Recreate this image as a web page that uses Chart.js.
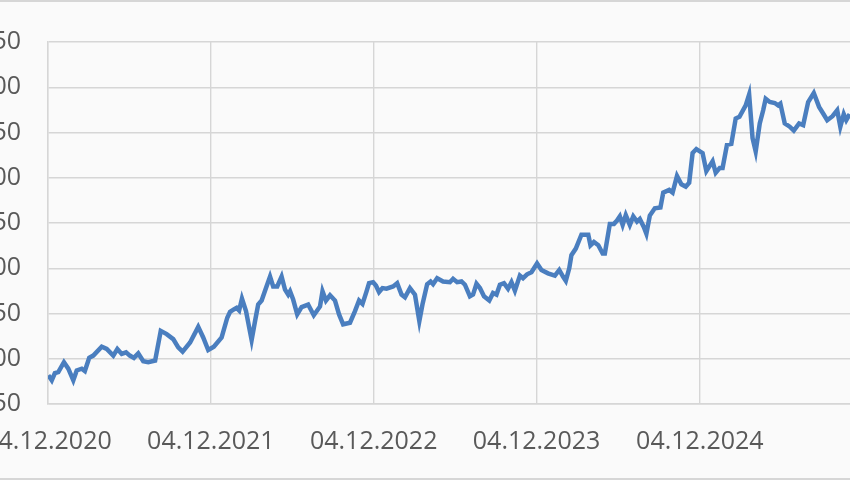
<!DOCTYPE html>
<html>
<head>
<meta charset="utf-8">
<script src="https://cdn.jsdelivr.net/npm/chart.js@4.4.0/dist/chart.umd.min.js"></script>
<style>
    body { margin: 0; background: #fafafa; }
    #frame { position: relative; width: 850px; height: 480px; overflow: hidden; background: #fafafa; }
    #holder { position: absolute; left: -60px; top: 0; width: 930px; height: 480px; }
    .edge { position: absolute; left: 0; width: 850px; height: 2px; background: #d6d6d6; }
</style>
</head>
<body>
<div id="frame">
    <div id="holder"><canvas id="lineGraph"></canvas></div>
    <div class="edge" style="top: 0;"></div>
    <div class="edge" style="bottom: 0;"></div>
</div>
<script>
// weeks since 04.12.2020 and the value at that week
var weekOffsets = [
    0.1, 1.2, 2.2, 3.3, 5.1, 6.5, 8.1, 9.2, 10.8, 11.8, 13.2, 14.5, 17.2, 18.8, 20.9, 22.2, 23.6, 25.0, 26.2, 27.5,
    28.9, 30.5, 32.1, 34.3, 36.1, 38.0, 40.1, 41.7, 43.1, 45.5, 48.1, 49.7, 51.3, 53.1, 55.6, 57.4, 58.3, 59.5, 60.4, 61.2,
    62.1, 63.4, 65.2, 66.3, 67.3, 68.4, 69.8, 71.1, 72.1, 73.4, 74.8, 75.9, 76.9, 77.5, 78.5, 79.8, 81.2, 83.3, 85.1, 87.1,
    87.9, 89.0, 90.3, 91.9, 93.2, 94.5, 96.7, 98.3, 99.6, 100.7, 102.0, 102.8, 104.1, 105.0, 106.0, 107.1, 108.4, 110.5, 111.8, 113.2,
    114.3, 115.9, 117.5, 118.9, 119.9, 121.4, 122.5, 123.3, 124.6, 126.5, 128.7, 129.7, 131.0, 132.4, 133.5, 135.1, 136.1, 137.2, 138.3, 139.6,
    141.3, 142.5, 143.6, 144.7, 146.0, 147.3, 148.4, 149.5, 151.1, 152.1, 153.4, 154.8, 156.6, 158.0, 160.1, 162.3, 163.7, 164.9, 165.8, 166.9,
    167.6, 169.0, 170.8, 173.0, 173.7, 174.8, 176.2, 177.6, 178.3, 179.9, 181.2, 182.2, 183.1, 184.0, 185.0, 186.3, 187.4, 188.6, 189.5, 190.8,
    191.6, 192.7, 194.3, 196.1, 197.0, 198.9, 200.0, 201.4, 202.8, 204.2, 205.3, 206.4, 207.6, 209.6, 210.8, 212.8, 213.8, 215.1, 216.0, 217.4,
    218.8, 220.2, 221.4, 223.4, 224.5, 225.6, 226.6, 227.9, 229.0, 229.8, 231.1, 232.7, 233.8, 234.5, 235.9, 237.5, 238.8, 240.5, 241.8, 243.4,
    245.2, 246.9, 248.2, 249.5, 251.2, 252.7, 253.7, 254.8, 255.6, 256.7
];
var values = [
    81.7, 76.2, 84.2, 85.3, 96.2, 89.0, 76.2, 87.1, 89.0, 86.4, 101.0, 103.5, 113.3, 110.8, 103.5, 110.8, 105.3, 107.1, 103.5, 101.0,
    106.0, 97.3, 96.2, 98.0, 130.8, 127.2, 121.7, 112.6, 107.9, 118.0, 135.2, 123.5, 109.7, 113.3, 123.5, 145.3, 151.9, 154.5, 156.2, 153.4,
    166.5, 152.6, 120.6, 141.7, 159.9, 164.3, 178.1, 190.8, 179.9, 179.9, 190.8, 176.3, 170.9, 174.5, 165.4, 149.0, 157.0, 159.9, 148.0, 157.8,
    174.5, 164.3, 170.1, 164.3, 149.0, 138.1, 139.8, 152.6, 164.3, 160.6, 174.5, 183.5, 184.6, 181.0, 173.7, 178.1, 177.4, 179.9, 183.5, 170.9,
    167.9, 178.1, 170.9, 141.7, 159.9, 182.4, 185.4, 182.4, 189.0, 185.4, 184.6, 188.3, 184.6, 185.4, 181.8, 169.0, 170.9, 182.9, 178.1, 169.0,
    164.3, 172.6, 170.9, 181.8, 183.5, 177.4, 184.6, 175.2, 191.9, 189.0, 193.3, 195.5, 205.3, 198.1, 194.4, 191.9, 198.1, 190.8, 186.1, 199.9,
    214.5, 221.7, 237.0, 237.0, 225.4, 229.0, 225.4, 216.3, 216.3, 249.0, 249.0, 252.7, 257.4, 247.9, 258.8, 247.9, 257.4, 251.6, 254.5, 245.4,
    238.1, 258.2, 266.2, 267.2, 283.6, 286.6, 283.6, 301.9, 292.7, 290.2, 294.5, 327.3, 331.7, 327.3, 307.3, 318.2, 305.5, 310.9, 310.9, 336.4,
    337.4, 365.5, 367.4, 380.0, 392.0, 343.7, 329.1, 360.0, 374.6, 387.3, 383.7, 382.6, 380.0, 381.9, 360.0, 356.4, 352.1, 360.0, 358.2, 383.7,
    393.6, 378.3, 371.0, 363.6, 368.0, 374.6, 356.4, 370.2, 363.6, 370.2
];

var tickLabels = ['04.12.2020', '04.12.2021', '04.12.2022', '04.12.2023', '04.12.2024'];
var yTicks = [50, 100, 150, 200, 250, 300, 350, 400, 450];

window.onload = function() {
    // turn the tick dates into weeks since the first one
    var start = new Date(2020, 11, 4);
    var tickWeeks = tickLabels.map(function(s) {
        var p = s.split('.');
        var d = new Date(+p[2], +p[1] - 1, +p[0]);
        return (d - start) / 86400000 / 7;
    });

    var points = [];
    for (var i = 0; i < values.length; i++) {
        points.push({ x: weekOffsets[i], y: values[i] });
    }

    var gridColor = '#d6d6d6';
    var ctx = document.getElementById('lineGraph').getContext('2d');
    var lineGraph = new Chart(ctx, {
        type: 'line',
        data: {
            datasets: [{
                data: points,
                borderColor: '#4a7ebf',
                borderWidth: 4.5,
                pointRadius: 0,
                tension: 0,
                fill: false
            }]
        },
        options: {
            responsive: true,
            maintainAspectRatio: false,
            animation: false,
            layout: { padding: { top: 37, right: 10, left: 0, bottom: 0 } },
            plugins: {
                legend: { display: false },
                tooltip: { enabled: false }
            },
            scales: {
                x: {
                    type: 'linear',
                    min: 0,
                    max: 260,
                    afterBuildTicks: function(scale) {
                        scale.ticks = tickWeeks.map(function(v) { return { value: v }; });
                    },
                    afterFit: function(scale) { scale.height = 76; },
                    grid: { color: gridColor, lineWidth: 1.4, drawTicks: false },
                    border: { color: gridColor, width: 1.4 },
                    ticks: {
                        padding: 23,
                        maxRotation: 0,
                        autoSkip: false,
                        color: '#595959',
                        font: { family: 'Open Sans', size: 25 },
                        callback: function(value, index) { return tickLabels[index]; }
                    }
                },
                y: {
                    min: yTicks[0],
                    max: yTicks[yTicks.length - 1],
                    afterBuildTicks: function(scale) {
                        scale.ticks = yTicks.map(function(v) { return { value: v }; });
                    },
                    afterFit: function(scale) { scale.width = 108; },
                    grid: { color: gridColor, lineWidth: 1.4, drawTicks: false },
                    border: { color: gridColor, width: 1.4 },
                    ticks: {
                        padding: 27,
                        color: '#595959',
                        font: { family: 'Open Sans', size: 25 }
                    }
                }
            }
        }
    });
};
</script>
</body>
</html>
